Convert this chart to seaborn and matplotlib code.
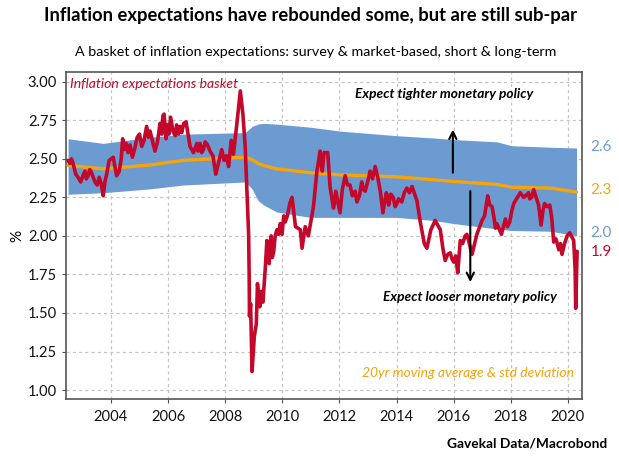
import numpy as np
import pandas as pd
import seaborn as sns
import matplotlib.pyplot as plt

# basket line
basket_years = [2002.50, 2002.62, 2002.70, 2002.77, 2002.94, 2003.09, 2003.20, 2003.32, 2003.44, 2003.59, 2003.73, 2003.85,
                2003.94, 2004.08, 2004.20, 2004.29, 2004.41, 2004.49, 2004.67, 2004.75, 2004.92, 2005.08, 2005.25, 2005.37,
                2005.54, 2005.72, 2005.86, 2005.93, 2006.09, 2006.25, 2006.42, 2006.63, 2006.77, 2006.89, 2007.01, 2007.18,
                2007.30, 2007.47, 2007.67, 2007.88, 2007.96, 2008.12, 2008.21, 2008.29, 2008.41, 2008.53, 2008.62, 2008.70,
                2008.82, 2008.84, 2008.85, 2008.89, 2008.94, 2009.02, 2009.09, 2009.13, 2009.21, 2009.26, 2009.32, 2009.40,
                2009.46, 2009.54, 2009.61, 2009.70, 2009.81, 2009.93, 2009.99, 2010.05, 2010.16, 2010.26, 2010.34, 2010.46,
                2010.63, 2010.69, 2010.80, 2010.91, 2011.09, 2011.21, 2011.32, 2011.40, 2011.46, 2011.59, 2011.67, 2011.79,
                2011.87, 2012.02, 2012.20, 2012.37, 2012.61, 2012.78, 2012.90, 2013.07, 2013.25, 2013.43, 2013.52, 2013.64,
                2013.72, 2013.80, 2013.95, 2014.07, 2014.18, 2014.36, 2014.54, 2014.71, 2014.83, 2014.97, 2015.06, 2015.20,
                2015.35, 2015.53, 2015.70, 2015.88, 2016.00, 2016.14, 2016.23, 2016.40, 2016.52, 2016.64, 2016.81, 2016.99,
                2017.19, 2017.34, 2017.46, 2017.51, 2017.67, 2017.81, 2017.96, 2018.10, 2018.33, 2018.57, 2018.66, 2018.80,
                2018.97, 2019.06, 2019.18, 2019.36, 2019.50, 2019.68, 2019.79, 2019.97, 2020.06, 2020.20, 2020.25, 2020.27,
                2020.32]
basket_vals = [2.49, 2.50, 2.45, 2.40, 2.35, 2.42, 2.39, 2.41, 2.35, 2.38, 2.26, 2.40,
               2.49, 2.51, 2.39, 2.42, 2.63, 2.56, 2.59, 2.51, 2.64, 2.58, 2.71, 2.68,
               2.55, 2.73, 2.79, 2.63, 2.77, 2.65, 2.71, 2.74, 2.58, 2.54, 2.60, 2.54,
               2.61, 2.55, 2.40, 2.56, 2.49, 2.45, 2.62, 2.53, 2.73, 2.94, 2.79, 2.58,
               2.01, 1.74, 1.48, 1.56, 1.12, 1.35, 1.43, 1.69, 1.54, 1.64, 1.57, 1.78,
               1.97, 1.82, 2.00, 1.90, 2.04, 2.08, 2.01, 2.13, 2.12, 2.21, 2.25, 2.06,
               2.04, 1.92, 2.06, 2.00, 2.19, 2.42, 2.55, 2.42, 2.54, 2.54, 2.32, 2.18,
               2.29, 2.15, 2.39, 2.33, 2.22, 2.35, 2.29, 2.42, 2.45, 2.29, 2.15, 2.28,
               2.20, 2.27, 2.19, 2.24, 2.22, 2.31, 2.32, 2.23, 2.09, 1.95, 1.92, 2.04,
               2.10, 2.04, 1.84, 1.89, 1.83, 1.76, 1.97, 2.00, 1.97, 1.88, 2.01, 2.10,
               2.26, 2.19, 2.05, 2.08, 2.01, 2.11, 2.09, 2.21, 2.28, 2.27, 2.24, 2.30,
               2.20, 2.07, 2.21, 2.20, 1.96, 1.91, 1.88, 2.00, 2.02, 1.97, 1.78, 1.53,
               1.90]
# the smaller wiggles between those turning points
wiggle_years = [2002.56, 2002.66, 2002.85, 2003.02, 2003.14, 2003.26, 2003.38, 2003.52, 2003.66, 2003.79,
                2004.36, 2004.53, 2004.60, 2004.84, 2005.00, 2005.16, 2005.31, 2005.46, 2005.63, 2005.78,
                2005.82, 2005.98, 2006.03, 2006.17, 2006.30, 2006.36, 2006.48, 2006.55, 2006.95, 2007.05,
                2007.12, 2007.24, 2007.38, 2007.57, 2007.75, 2008.04, 2009.50, 2009.57, 2009.65, 2009.75,
                2009.87, 2010.10, 2010.21, 2011.25, 2011.36, 2011.63, 2011.83, 2012.10, 2012.28, 2012.45,
                2012.55, 2012.70, 2012.84, 2013.00, 2013.16, 2013.34, 2013.58, 2013.68, 2013.88, 2014.01,
                2014.27, 2014.45, 2015.62, 2015.79, 2015.94, 2016.07, 2016.31, 2016.46, 2017.08, 2017.26,
                2017.40, 2017.74, 2017.88, 2018.03, 2018.20, 2018.45, 2018.62, 2018.73, 2019.12, 2019.27,
                2019.43, 2019.58, 2019.74, 2019.88]
wiggle_vals = [2.47, 2.48, 2.38, 2.39, 2.37, 2.43, 2.38, 2.33, 2.34, 2.35,
               2.50, 2.60, 2.54, 2.57, 2.66, 2.62, 2.64, 2.61, 2.61, 2.66,
               2.78, 2.72, 2.66, 2.68, 2.72, 2.66, 2.67, 2.73, 2.57, 2.55,
               2.60, 2.56, 2.59, 2.52, 2.46, 2.52, 1.90, 1.94, 1.86, 2.00,
               2.01, 2.09, 2.16, 2.46, 2.47, 2.43, 2.22, 2.30, 2.33, 2.26,
               2.29, 2.26, 2.30, 2.36, 2.37, 2.38, 2.22, 2.26, 2.25, 2.21,
               2.28, 2.28, 1.92, 1.88, 1.85, 1.87, 1.95, 2.01, 2.13, 2.20,
               2.13, 2.06, 2.06, 2.16, 2.24, 2.25, 2.28, 2.25, 2.16, 2.19,
               2.12, 1.98, 1.95, 1.95]

# 20yr moving average and +/- 1 std band
band_years = [2002.5, 2003.73, 2005.37, 2006.54, 2008.7, 2008.94, 2009.15, 2009.35, 2009.8, 2010.98,
              2012, 2014, 2015.3, 2016, 2017.51, 2018.03, 2019.4, 2020.3]
band_upper = [2.63, 2.60, 2.64, 2.66, 2.67, 2.71, 2.725, 2.73, 2.725, 2.705,
              2.68, 2.65, 2.635, 2.625, 2.61, 2.585, 2.575, 2.57]
band_lower = [2.27, 2.28, 2.305, 2.33, 2.35, 2.305, 2.23, 2.20, 2.155, 2.12,
              2.12, 2.12, 2.10, 2.08, 2.045, 2.035, 2.03, 2.00]
band_mean = [2.457, 2.435, 2.46, 2.49, 2.51, 2.494, 2.47, 2.457, 2.435, 2.41,
             2.396, 2.383, 2.364, 2.353, 2.334, 2.316, 2.31, 2.284]

x_ticks = [2004, 2006, 2008, 2010, 2012, 2014, 2016, 2018, 2020]
y_ticks = [1.00, 1.25, 1.50, 1.75, 2.00, 2.25, 2.50, 2.75, 3.00]

RED = '#c4082c'
BLUE = '#6c9bd2'
ORANGE = '#f7a30a'

sns.set_style('ticks')
plt.rcParams['font.family'] = ['Lato', 'DejaVu Sans']

basket = pd.DataFrame({'year': basket_years + wiggle_years, 'value': basket_vals + wiggle_vals})
band = pd.DataFrame({'year': band_years, 'upper': band_upper, 'lower': band_lower, 'mean': band_mean})

W, H = 619, 465
fig = plt.figure(figsize=(W / 100, H / 100), dpi=100)
ax = fig.add_axes([65.5 / W, 1 - 399 / H, (581.7 - 65.5) / W, (399 - 71.7) / H])

ax.fill_between(band['year'], band['lower'], band['upper'], color=BLUE, lw=0, zorder=2)
sns.lineplot(data=band, x='year', y='mean', color=ORANGE, lw=2.4, errorbar=None, ax=ax, zorder=3)
sns.lineplot(data=basket, x='year', y='value', color=RED, lw=2.6, errorbar=None, ax=ax, zorder=4)

ax.set_xlim(2002.41, 2020.48)
ax.set_ylim(0.942, 3.065)
ax.set_xticks(x_ticks)
ax.set_yticks(y_ticks)
ax.set_yticklabels(['%.2f' % v for v in y_ticks])
ax.set_xlabel('')
ax.set_ylabel('')
ax.tick_params(labelsize=10.6, length=3, width=0.8, color='#555555', labelcolor='#111111', pad=3)
ax.tick_params(axis='x', pad=5)
ax.grid(True, ls=(0, (2.5, 2.5)), lw=0.9, color='#c4c4c4')
ax.set_axisbelow(True)
for s in ax.spines.values():
    s.set_visible(True)
    s.set_color('#555555')
    s.set_linewidth(1.2)

# arrows
ax.annotate('', xy=(2015.97, 2.69), xytext=(2015.97, 2.41),
            arrowprops=dict(arrowstyle='->', color='black', lw=1.5, mutation_scale=13, shrinkA=0, shrinkB=0), zorder=5)
ax.annotate('', xy=(2016.58, 1.70), xytext=(2016.58, 2.29),
            arrowprops=dict(arrowstyle='->', color='black', lw=1.5, mutation_scale=13, shrinkA=0, shrinkB=0), zorder=5)


def ptext(x, y, s, **kw):
    # place text by picture pixels
    fig.text(x / W, 1 - y / H, s, va='center', **kw)


ptext(311, 15, 'Inflation expectations have rebounded some, but are still sub-par', ha='center',
      fontsize=13.2, fontweight='bold', color='black')
ptext(316, 52, 'A basket of inflation expectations: survey & market-based, short & long-term', ha='center',
      fontsize=10.25, color='black')
ptext(70, 84, 'Inflation expectations basket', ha='left', fontsize=10.1, style='italic', color=RED)
ptext(355, 94, 'Expect tighter monetary policy', ha='left', fontsize=9.9, style='italic', color='black', fontweight='bold')
ptext(383, 297, 'Expect looser monetary policy', ha='left', fontsize=9.9, style='italic', color='black', fontweight='bold')
ptext(574, 373, '20yr moving average & std deviation', ha='right', fontsize=10, style='italic', color=ORANGE)
ptext(607, 443, 'Gavekal Data/Macrobond', ha='right', fontsize=9.9, fontweight='bold', color='black')
ptext(17, 236, '%', ha='center', rotation=90, fontsize=11, color='black')
ptext(601, 147, '2.6', ha='center', fontsize=11, color=BLUE)
ptext(601, 190, '2.3', ha='center', fontsize=11, color=ORANGE)
ptext(601, 233, '2.0', ha='center', fontsize=11, color=BLUE)
ptext(601, 252, '1.9', ha='center', fontsize=11, color=RED)

fig.savefig('out.png', dpi=100)
